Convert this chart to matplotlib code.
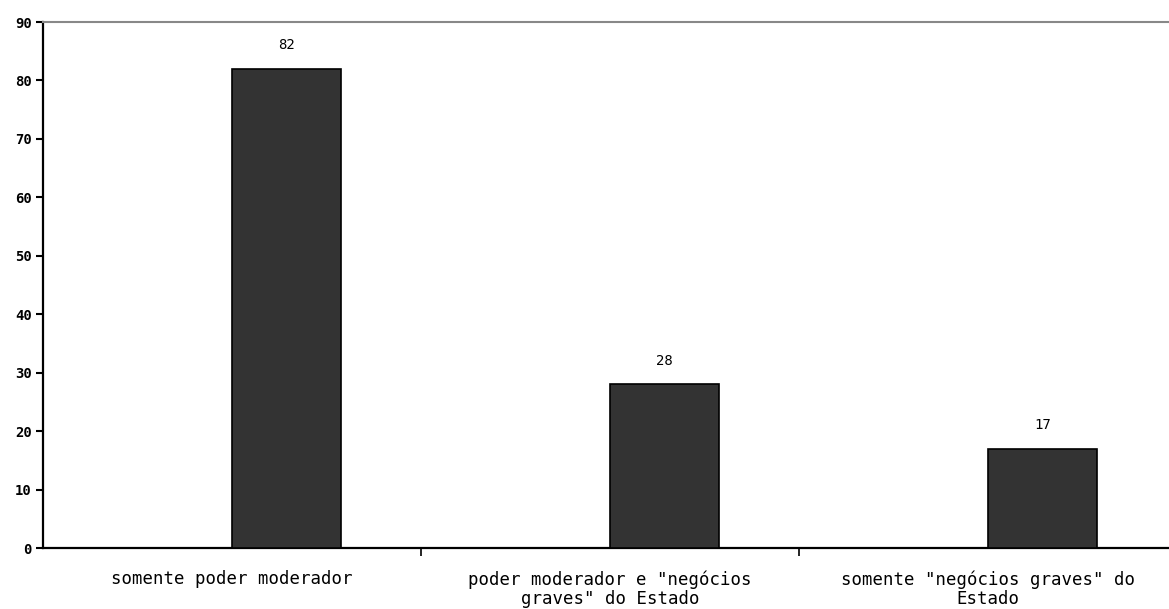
import matplotlib
matplotlib.use("Agg")
import matplotlib.pyplot as plt

categories = ["somente poder moderador",
              "poder moderador e \"negócios\ngraves\" do Estado",
              "somente \"negócios graves\" do\nEstado"]
values = [82, 28, 17]
yticks = [0, 10, 20, 30, 40, 50, 60, 70, 80, 90]

fig = plt.figure(figsize=(11.69, 6.09), dpi=100)
ax = fig.add_axes([43/1169, 1-548/609, 1134/1169, 526/609])

x = list(range(len(categories)))
bars = ax.bar(x, values, width=0.288, align='edge', color='#333333',
              edgecolor='black', linewidth=1.2, zorder=3)
for xi, v in zip(x, values):
    ax.text(xi + 0.144, v + 2.8, str(v), ha='center', va='bottom',
            family='DejaVu Sans Mono', fontsize=10)

ax.set_xlim(-0.5, 2.5)
ax.set_ylim(0, 90)
ax.set_yticks(yticks)
ax.set_yticklabels([str(t) for t in yticks], family='DejaVu Sans Mono',
                   fontsize=10, fontweight='bold')
ax.set_xticks(x)
ax.set_xticklabels(categories, family='DejaVu Sans Mono', fontsize=12.5,
                   linespacing=1.1)
ax.set_xticks([0.5, 1.5], minor=True)
ax.tick_params(axis='x', which='major', length=0, pad=16)
ax.tick_params(axis='x', which='minor', length=6, width=1.2, direction='out')
ax.tick_params(axis='y', length=5, width=1.5, direction='out', pad=3)

for s in ['left', 'bottom']:
    ax.spines[s].set_linewidth(1.6)
    ax.spines[s].set_color('black')
ax.spines['top'].set_color('#888888')
ax.spines['top'].set_linewidth(1.5)
ax.spines['right'].set_visible(False)

fig.savefig("out.png", dpi=100)
